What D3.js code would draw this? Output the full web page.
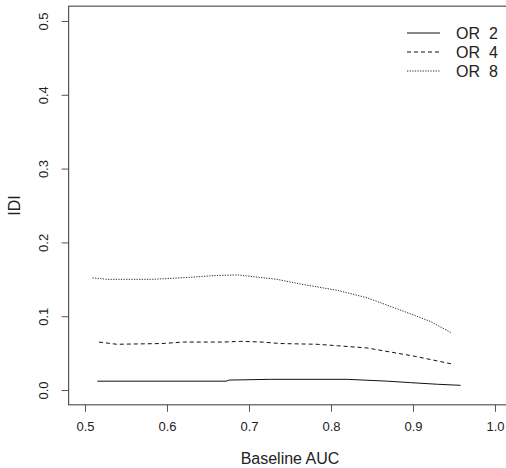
<!DOCTYPE html>
<html>
<head>
<meta charset="utf-8">
<script src="https://cdn.jsdelivr.net/npm/d3@7"></script>
<style>
  body { margin: 0; background: #fff; }
  svg { font-family: "Liberation Sans", Arial, sans-serif; }
</style>
</head>
<body>
<script>
// baseline AUC (x) and IDI (y) per odds ratio
var aucOR2 = [0.515, 0.672, 0.676, 0.726, 0.820, 0.869, 0.897, 0.930, 0.958];
var idiOR2 = [0.012, 0.012, 0.0135, 0.0145, 0.0145, 0.012, 0.010, 0.0078, 0.0064];

var aucOR4 = [0.517, 0.539, 0.594, 0.620, 0.669, 0.690, 0.716, 0.738, 0.783, 0.808, 0.844, 0.901, 0.949];
var idiOR4 = [0.065, 0.062, 0.063, 0.065, 0.065, 0.066, 0.065, 0.063, 0.062, 0.060, 0.057, 0.046, 0.035];

var aucOR8 = [0.509, 0.527, 0.582, 0.600, 0.632, 0.657, 0.686, 0.710, 0.734, 0.766, 0.808, 0.844, 0.888, 0.921, 0.946];
var idiOR8 = [0.152, 0.150, 0.150, 0.151, 0.153, 0.155, 0.156, 0.153, 0.150, 0.143, 0.135, 0.125, 0.107, 0.093, 0.078];

var seriesNames = ["OR  2", "OR  4", "OR  8"];
var xTicks = [0.5, 0.6, 0.7, 0.8, 0.9, 1.0];
var yTicks = [0.0, 0.1, 0.2, 0.3, 0.4, 0.5];

var W = 506, H = 468;
var box = {left: 68.6, right: 511.4, top: 6.2, bottom: 404.8};

var svg = d3.select("body").append("svg")
    .attr("width", W)
    .attr("height", H);

var x = d3.scaleLinear().domain([0.48, 1.02]).range([box.left, box.right]);
var y = d3.scaleLinear().domain([-0.02, 0.52]).range([box.bottom, box.top]);

var axisCol = "#555";
var textCol = "#222";

// x axis
var xAxis = svg.append("g")
    .attr("transform", "translate(0," + box.bottom + ")")
    .call(d3.axisBottom(x).tickValues(xTicks).tickSize(7).tickPadding(10)
      .tickFormat(d3.format(".1f")));
xAxis.select(".domain").remove();
xAxis.selectAll("line").attr("stroke", axisCol);
xAxis.selectAll("text").attr("fill", textCol).style("font-size", "13px");

// y axis, labels turned like R
var yAxis = svg.append("g")
    .attr("transform", "translate(" + box.left + ",0)")
    .call(d3.axisLeft(y).tickValues(yTicks).tickSize(7).tickFormat(d3.format(".1f")));
yAxis.select(".domain").remove();
yAxis.selectAll("line").attr("stroke", axisCol);
yAxis.selectAll("text")
    .attr("fill", textCol)
    .style("font-size", "13px")
    .attr("text-anchor", "middle")
    .attr("x", 0).attr("dy", 0)
    .attr("transform", "translate(-25,0) rotate(-90)")
    .attr("y", 4.5);

// box
svg.append("rect")
    .attr("x", box.left).attr("y", box.top)
    .attr("width", box.right - box.left)
    .attr("height", box.bottom - box.top)
    .attr("fill", "none")
    .attr("stroke", axisCol)
    .attr("stroke-width", 1.2);

// titles
svg.append("text")
    .attr("x", (box.left + box.right) / 2)
    .attr("y", 464)
    .attr("text-anchor", "middle")
    .attr("fill", textCol)
    .style("font-size", "16px")
    .text("Baseline AUC");

svg.append("text")
    .attr("transform", "translate(20," + ((box.top + box.bottom) / 2) + ") rotate(-90)")
    .attr("text-anchor", "middle")
    .attr("fill", textCol)
    .style("font-size", "16px")
    .text("IDI");

// lines
var series = [
  {auc: aucOR2, idi: idiOR2, dash: null, col: "#111"},
  {auc: aucOR4, idi: idiOR4, dash: "4,3", col: "#111"},
  {auc: aucOR8, idi: idiOR8, dash: "1.3,1.3", col: "#333"}
];

var line = d3.line()
    .x(function(d) { return x(d[0]); })
    .y(function(d) { return y(d[1]); });

series.forEach(function(s) {
  var pts = s.auc.map(function(a, i) { return [a, s.idi[i]]; });
  svg.append("path")
     .datum(pts)
     .attr("d", line)
     .attr("fill", "none")
     .attr("stroke", s.col)
     .attr("stroke-width", 1)
     .attr("stroke-dasharray", s.dash);
});

// legend
var leg = svg.append("g");
seriesNames.forEach(function(name, i) {
  var yy = 33 + i * 19;
  leg.append("line")
     .attr("x1", 407).attr("x2", 440)
     .attr("y1", yy).attr("y2", yy)
     .attr("stroke", series[i].col)
     .attr("stroke-width", 1)
     .attr("stroke-dasharray", series[i].dash);
  leg.append("text")
     .attr("x", 456).attr("y", yy + 6)
     .attr("fill", textCol)
     .style("font-size", "16px")
     .style("white-space", "pre")
     .text(name);
});
</script>
</body>
</html>
